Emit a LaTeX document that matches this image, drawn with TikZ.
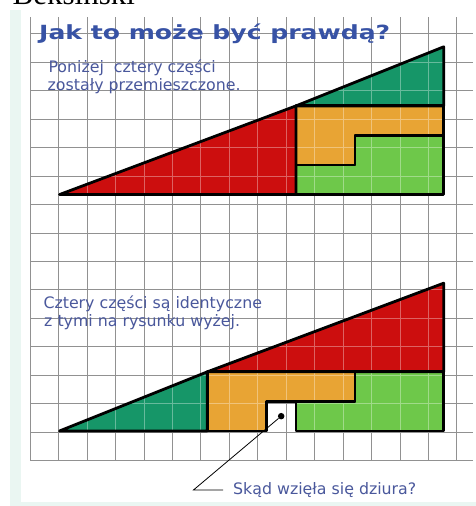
\documentclass[tikz,border=0pt]{standalone}
\usepackage{fontspec}
\usepackage{graphicx}
\setmainfont{DejaVu Sans}
\newfontfamily\signfont{Liberation Serif}
\definecolor{mintbg}{RGB}{234,246,242}
\definecolor{gridgray}{RGB}{145,145,145}
\definecolor{titleblue}{RGB}{55,82,165}
\definecolor{textblue}{RGB}{74,88,156}
\definecolor{redpart}{RGB}{204,14,14}
\definecolor{tealpart}{RGB}{22,150,104}
\definecolor{orangepart}{RGB}{232,164,52}
\definecolor{limepart}{RGB}{110,200,74}
\tikzset{
	gridline/.style={draw=gridgray,line width=0.6pt},
	fillgrid/.style={draw=white,draw opacity=0.35,line width=0.6pt},
	edge/.style={draw=black,line width=2.8pt,line join=round},
	note/.style={anchor=base west,inner sep=0pt,text=textblue,font=\fontsize{15.8}{18}\selectfont},
	holedot/.style={circle,fill=black,inner sep=0pt,minimum size=6.5pt}
}

\begin{document}
\begin{tikzpicture}[x=29.55pt,y=29.55pt]
	\useasboundingbox (-30pt,-45.5pt) rectangle (446pt,460.5pt);
	\fill[mintbg] (-20pt,-45.5pt) rectangle (446pt,450.5pt);
	\fill[white] (-9pt,-41.2pt) rectangle (446pt,450.5pt);

	\node[anchor=base west,inner sep=0pt,font=\signfont\fontsize{31}{31}\selectfont] (sign) at (-17.5pt,455.5pt) {Beksinski};

	\draw[gridline] (0,0) grid (15,15);

	\fill[redpart] (1,9) -- (9,9) -- (9,12) -- cycle;
	\fill[tealpart] (9,12) -- (14,12) -- (14,14) -- cycle;
	\fill[orangepart] (9,12) -- (14,12) -- (14,11) -- (11,11) -- (11,10) -- (9,10) -- cycle;
	\fill[limepart] (9,10) -- (11,10) -- (11,11) -- (14,11) -- (14,9) -- (9,9) -- cycle;

	\fill[tealpart] (1,1) -- (6,1) -- (6,3) -- cycle;
	\fill[redpart] (6,3) -- (14,3) -- (14,6) -- cycle;
	\fill[orangepart] (6,3) -- (11,3) -- (11,2) -- (8,2) -- (8,1) -- (6,1) -- cycle;
	\fill[limepart] (11,3) -- (14,3) -- (14,1) -- (9,1) -- (9,2) -- (11,2) -- cycle;

	\begin{scope}
		\clip (1,9) -- (14,9) -- (14,14) -- cycle;
		\draw[fillgrid] (0,0) grid (15,15);
	\end{scope}
	\begin{scope}
		\clip (1,1) -- (8,1) -- (8,2) -- (9,2) -- (9,1) -- (14,1) -- (14,6) -- cycle;
		\draw[fillgrid] (0,0) grid (15,15);
	\end{scope}

	\draw[edge] (1,9) -- (9,9) -- (9,12) -- cycle;
	\draw[edge] (9,12) -- (14,12) -- (14,14) -- cycle;
	\draw[edge] (9,12) -- (14,12) -- (14,11) -- (11,11) -- (11,10) -- (9,10) -- cycle;
	\draw[edge] (9,10) -- (11,10) -- (11,11) -- (14,11) -- (14,9) -- (9,9) -- cycle;

	\draw[edge] (1,1) -- (6,1) -- (6,3) -- cycle;
	\draw[edge] (6,3) -- (14,3) -- (14,6) -- cycle;
	\draw[edge] (6,3) -- (11,3) -- (11,2) -- (8,2) -- (8,1) -- (6,1) -- cycle;
	\draw[edge] (11,3) -- (14,3) -- (14,1) -- (9,1) -- (9,2) -- (11,2) -- cycle;

	\node[anchor=base west,inner sep=0pt,text=titleblue,font=\bfseries\fontsize{19.5}{20}\selectfont] (title) at (9pt,421.2pt) {\resizebox{351pt}{\height}{Jak to może być prawdą?}};

	\node[note] (toptext1) at (18.3pt,387.5pt) {Poniżej\ \ cztery części};
	\node[note] (toptext2) at (17.5pt,369.5pt) {zostały przemieszczone.};
	\node[note] (lowtext1) at (13.3pt,152.2pt) {Cztery części są identyczne};
	\node[note] (lowtext2) at (14pt,133.8pt) {z tymi na rysunku wyżej.};

	\node[holedot] (dot) at (8.5,1.5) {};
	\node[note,inner xsep=10pt] (question) at (193pt,-33.5pt) {Skąd wzięła się dziura?};
	\coordinate (bend) at (5.53,-1);
	\draw[line width=0.8pt] (dot) -- (bend) -- (bend -| question.west);
\end{tikzpicture}
\end{document}
